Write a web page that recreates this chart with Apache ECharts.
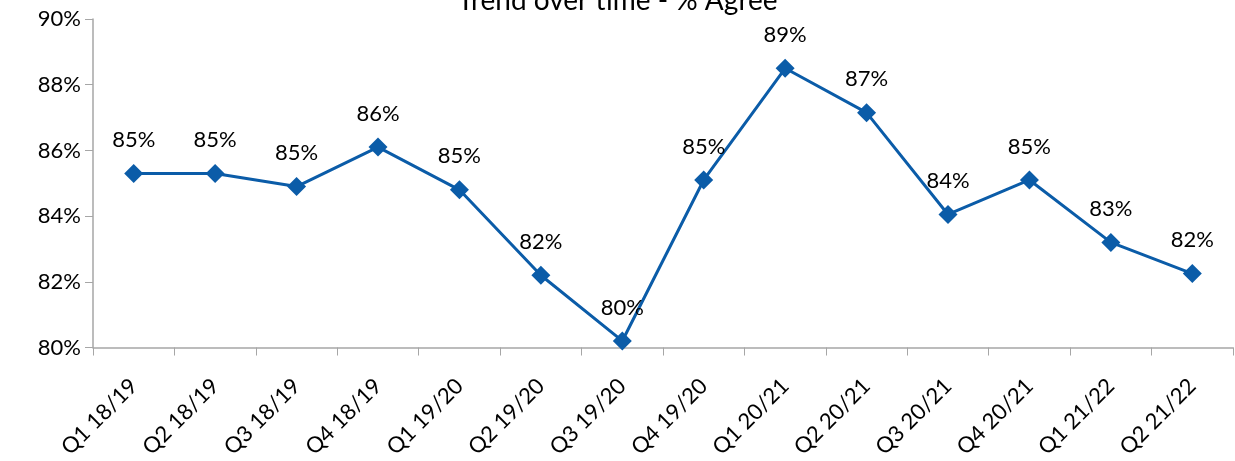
<!DOCTYPE html>
<html>
<head>
<meta charset="utf-8">
<script src="https://cdn.jsdelivr.net/npm/echarts@6/dist/echarts.min.js"></script>
<style>
  html, body { margin: 0; padding: 0; background: #fff; }
  #chart { width: 1235px; height: 461px; }
</style>
</head>
<body>
<div id="chart"></div>
<script>
// categories (quarters)
var quarters = ['Q1 18/19', 'Q2 18/19', 'Q3 18/19', 'Q4 18/19', 'Q1 19/20', 'Q2 19/20', 'Q3 19/20',
  'Q4 19/20', 'Q1 20/21', 'Q2 20/21', 'Q3 20/21', 'Q4 20/21', 'Q1 21/22', 'Q2 21/22'];
// % agree
var agree = [85.3, 85.3, 84.9, 86.1, 84.8, 82.2, 80.2, 85.1, 88.5, 87.15, 84.05, 85.1, 83.2, 82.25];
var yTicks = [80, 82, 84, 86, 88, 90];

var font = 'Lato, "Open Sans", sans-serif';
var chart = echarts.init(document.getElementById('chart'));
chart.setOption({
    animation: false,
    title: {
        text: 'Trend over time - % Agree',
        left: 'center',
        top: -18,
        textStyle: { fontFamily: font, fontSize: 28, fontWeight: 'normal', color: '#000' }
    },
    grid: { left: 93, right: 2, top: 19, bottom: 112, containLabel: false },
    xAxis: {
        type: 'category',
        data: quarters,
        boundaryGap: true,
        axisLine: { lineStyle: { color: '#a6a6a6', width: 1.5 } },
        axisTick: { show: true, length: 8, lineStyle: { color: '#a6a6a6' } },
        axisLabel: { rotate: 45, margin: 35, interval: 0, fontFamily: font, fontSize: 22, color: '#000' }
    },
    yAxis: {
        type: 'value',
        min: yTicks[0],
        max: yTicks[yTicks.length - 1],
        interval: 2,
        splitLine: { show: false },
        axisLine: { show: true, lineStyle: { color: '#a6a6a6', width: 1.5 } },
        axisTick: { show: true, length: 8, lineStyle: { color: '#a6a6a6' } },
        axisLabel: {
            margin: 12, fontFamily: font, fontSize: 22, color: '#000',
            formatter: function (v) { return v + '%'; }
        }
    },
    series: [{
        type: 'line',
        data: agree,
        symbol: 'diamond',
        symbolSize: 19,
        lineStyle: { color: '#0b5ca8', width: 3 },
        itemStyle: { color: '#0b5ca8' },
        label: {
            show: true,
            position: 'top',
            distance: 13,
            fontFamily: font,
            fontSize: 22,
            color: '#000',
            formatter: function (p) { return Math.round(p.value) + '%'; }
        }
    }]
});
</script>
</body>
</html>
